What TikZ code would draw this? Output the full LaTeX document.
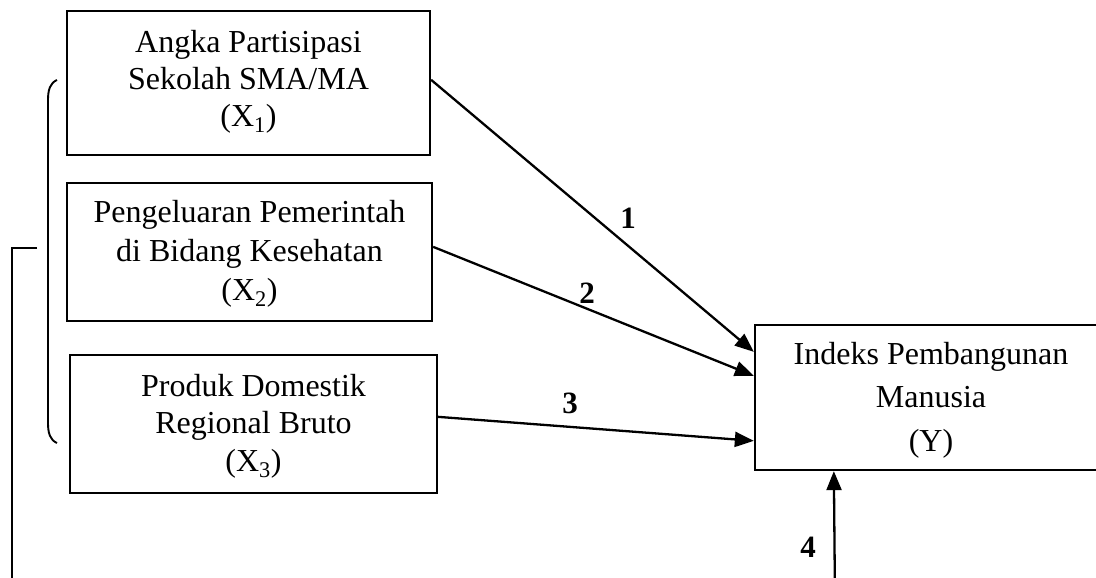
\documentclass[tikz,border=0pt]{standalone}
\usepackage{fontspec}
\setmainfont{Liberation Serif}
\usetikzlibrary{arrows.meta,calc}
\tikzset{
  boxnode/.style={draw, line width=2.3pt, rectangle, inner sep=0pt},
  txt/.style={align=center, inner sep=0pt},
  lbl/.style={inner sep=0pt, font=\fontsize{31}{34}\selectfont\bfseries},
  conn/.style={line width=2.3pt, -{Triangle[length=19pt,width=15pt]}},
  plain/.style={line width=2.3pt}
}
\begin{document}
\begin{tikzpicture}[x=1pt,y=-1pt]
\useasboundingbox (0,0) rectangle (1096,578);
\clip (0,0) rectangle (1096,578);
% boxes
\node[boxnode, minimum width=363pt, minimum height=144pt] (x1) at (248.5,83) {};
\node[boxnode, minimum width=365pt, minimum height=138pt] (x2) at (249.5,252) {};
\node[boxnode, minimum width=367pt, minimum height=138pt] (x3) at (253.5,424) {};
\node[boxnode, minimum width=352pt, minimum height=145pt] (yb) at (931,397.5) {};
% texts
\node[txt, font=\fontsize{32}{37}\selectfont] (t1) at (248.5,82) {Angka Partisipasi\\Sekolah SMA/MA\\(X\textsubscript{1})};
\node[txt, font=\fontsize{32}{39}\selectfont] (t2) at (249.5,254) {Pengeluaran Pemerintah\\di Bidang Kesehatan\\(X\textsubscript{2})};
\node[txt, font=\fontsize{32}{37.5}\selectfont] (t3) at (253.5,426) {Produk Domestik\\Regional Bruto\\(X\textsubscript{3})};
\node[txt, font=\fontsize{32}{43.5}\selectfont] (ty) at (931,400) {Indeks Pembangunan\\Manusia\\(Y)};
% connector end points
\path (yb.north west) ++(0,28) coordinate (in1);
\path (yb.north west) ++(0,52) coordinate (in2);
\path (yb.north west) ++(0,117) coordinate (in3);
\path (yb.south west) ++(80,0) coordinate (in4);
\path (x1.north east) ++(0,70) coordinate (o1);
\path (x2.north east) ++(0,65) coordinate (o2);
\path (x3.north east) ++(0,63) coordinate (o3);
\coordinate (b4) at (835,600);
% arrows
\draw[conn] (o1) -- (in1);
\draw[conn] (o2) -- (in2);
\draw[conn] (o3) -- (in3);
\draw[conn] (b4) -- (in4);
% labels
\node[lbl] (l1) at (628,218) {1};
\node[lbl] (l2) at (587,293) {2};
\node[lbl] (l3) at (570,403) {3};
\node[lbl] (l4) at (808,547) {4};
% brace
\coordinate (bt) at (57,80);
\coordinate (bb) at (57,443);
\draw[line width=1.9pt] (bt) .. controls (50,83) and (48,90) .. (48,100) -- (48,423) .. controls (48,433) and (50,440) .. (bb);
% left bracket line
\coordinate (k1) at (37,248);
\coordinate (k2) at (12,248);
\coordinate (k3) at (12,600);
\draw[plain] (k1) -- (k2) -- (k3);
\end{tikzpicture}
\end{document}
